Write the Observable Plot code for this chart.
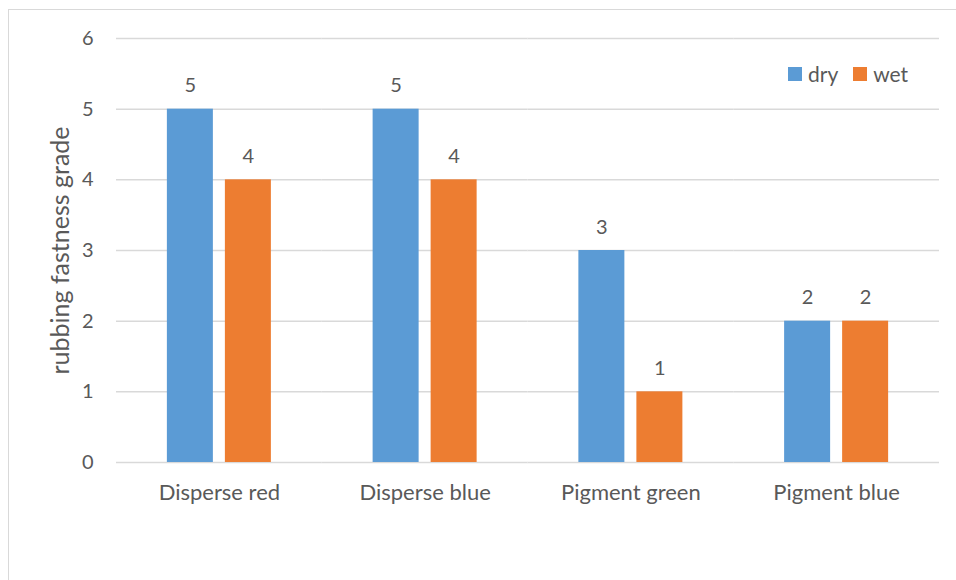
<!DOCTYPE html>
<html>
<head>
<meta charset="utf-8">
<script src="https://cdn.jsdelivr.net/npm/d3@7"></script>
<script src="https://cdn.jsdelivr.net/npm/@observablehq/plot@0.6"></script>
<style>
  html, body { margin: 0; padding: 0; background: #fff; }
  #chart { position: relative; width: 956px; height: 580px; overflow: hidden; font-family: Lato, sans-serif; }
  .frame { position: absolute; left: 8px; top: 9px; width: 1000px; height: 700px; border: 1px solid #d9d9d9; box-sizing: border-box; }
  #plot { position: absolute; left: 0; top: 0; }
  .legend { position: absolute; left: 788px; top: 61px; display: flex; align-items: center; font-size: 21px; color: #595959; }
  .legend .sw { width: 14px; height: 14px; margin-right: 6px; }
  .legend .item { display: flex; align-items: center; margin-right: 15px; }
</style>
</head>
<body>
<div id="chart">
  <div class="frame"></div>
  <div id="plot"></div>
  <div class="legend" id="legend"></div>
</div>
<script>
// Rubbing fastness grades per dye, dry vs wet
const categories = ["Disperse red", "Disperse blue", "Pigment green", "Pigment blue"];
const series = ["dry", "wet"];
const dry = [5, 5, 3, 2];
const wet = [4, 4, 1, 2];
const yTicks = [0, 1, 2, 3, 4, 5, 6];
const colors = ["#5B9BD5", "#ED7D31"];

const rows = [];
categories.forEach((c, i) => {
  rows.push({category: c, series: "dry", value: dry[i]});
  rows.push({category: c, series: "wet", value: wet[i]});
});

const textColor = "#595959";

const chart = Plot.plot({
  width: 956,
  height: 580,
  marginLeft: 116,
  marginRight: 17,
  marginTop: 38,
  marginBottom: 118,
  style: {fontFamily: "Lato, sans-serif", fontSize: "20px", color: textColor, background: "transparent"},
  fx: {domain: categories, padding: 0, round: false, label: null},
  x: {domain: series, paddingInner: 0.207, paddingOuter: 0.877, round: false, axis: null},
  y: {domain: [0, 6], ticks: yTicks},
  color: {domain: series, range: colors},
  marks: [
    Plot.ruleY(yTicks, {stroke: "#d9d9d9", strokeWidth: 1.5}),
    Plot.barY(rows, {fx: "category", x: "series", y: "value", fill: "series"}),
    Plot.text(rows, {fx: "category", x: "series", y: "value", text: d => String(d.value),
      lineAnchor: "bottom", dy: -17, fill: textColor, fontSize: 20}),
    Plot.axisY(yTicks, {tickSize: 0, tickPadding: 23, fontSize: 20, fill: textColor,
      tickFormat: d3.format("d"), label: null}),
    Plot.axisY({ticks: [], tickSize: 0, fontSize: 25, fill: textColor,
      label: "rubbing fastness grade", labelAnchor: "center", labelOffset: 65, labelArrow: "none"}),
    Plot.axisFx({anchor: "bottom", tickSize: 0, tickPadding: 22, fontSize: 22, fill: textColor, label: null})
  ]
});
document.getElementById("plot").appendChild(chart);

// Legend
const legend = document.getElementById("legend");
series.forEach((s, i) => {
  const item = document.createElement("div");
  item.className = "item";
  const sw = document.createElement("div");
  sw.className = "sw";
  sw.style.background = colors[i];
  const label = document.createElement("span");
  label.textContent = s;
  item.appendChild(sw);
  item.appendChild(label);
  legend.appendChild(item);
});
</script>
</body>
</html>
